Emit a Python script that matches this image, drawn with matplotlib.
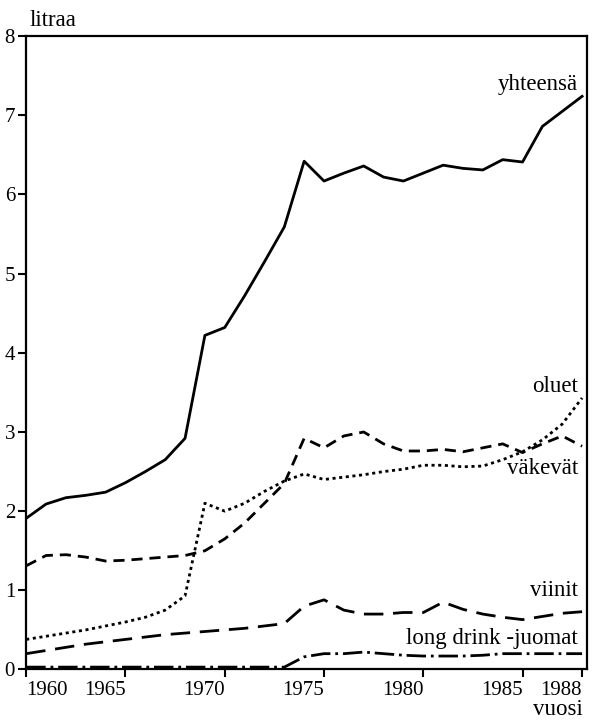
import matplotlib
matplotlib.use('Agg')
import matplotlib.pyplot as plt

plt.rcParams['font.family'] = ['Liberation Serif', 'DejaVu Serif']
plt.rcParams['lines.scale_dashes'] = False

# Alkoholin kulutus asukasta kohden (litraa 100 % alkoholia)
years = list(range(1960, 1989))
yhteensa = [1.91, 2.09, 2.17, 2.20, 2.24, 2.36, 2.50, 2.65, 2.92, 4.22,
            4.32, 4.72, 5.15, 5.59, 6.42, 6.17, 6.27, 6.36, 6.22, 6.17,
            6.27, 6.37, 6.33, 6.31, 6.44, 6.41, 6.86, 7.05, 7.24]
oluet = [0.38, 0.42, 0.46, 0.50, 0.55, 0.60, 0.66, 0.75, 0.93, 2.10,
         2.00, 2.10, 2.25, 2.38, 2.47, 2.40, 2.43, 2.46, 2.50, 2.53,
         2.58, 2.58, 2.56, 2.57, 2.65, 2.75, 2.90, 3.10, 3.43]
vakevat = [1.31, 1.44, 1.45, 1.42, 1.37, 1.38, 1.40, 1.42, 1.44, 1.50,
           1.65, 1.85, 2.10, 2.35, 2.92, 2.80, 2.95, 3.00, 2.85, 2.76,
           2.76, 2.78, 2.75, 2.80, 2.85, 2.74, 2.85, 2.95, 2.82]
viinit = [0.20, 0.24, 0.28, 0.32, 0.35, 0.38, 0.41, 0.44, 0.46, 0.48,
          0.50, 0.52, 0.55, 0.58, 0.80, 0.88, 0.75, 0.70, 0.70, 0.72,
          0.72, 0.85, 0.76, 0.70, 0.66, 0.63, 0.67, 0.71, 0.73]
long_drink = [0.03, 0.03, 0.03, 0.03, 0.03, 0.03, 0.03, 0.03, 0.03, 0.03,
              0.03, 0.03, 0.03, 0.03, 0.16, 0.20, 0.20, 0.22, 0.20, 0.18,
              0.17, 0.17, 0.17, 0.18, 0.20, 0.20, 0.20, 0.20, 0.20]

x_ticks = [1960, 1965, 1970, 1975, 1980, 1985, 1988]
y_ticks = [0, 1, 2, 3, 4, 5, 6, 7, 8]

fig = plt.figure(figsize=(5.96, 7.23), dpi=100)
ax = fig.add_axes([0.044, 0.074, 0.941, 0.876])

ax.plot(years, yhteensa, color='black', lw=2)
ax.plot(years, oluet, color='black', lw=2, dashes=(2.2, 2.6))
ax.plot(years, vakevat, color='black', lw=2, dashes=(8, 5))
ax.plot(years, viinit, color='black', lw=2, dashes=(14, 7))
ax.plot(years, long_drink, color='black', lw=2, dashes=(14, 3.5, 2, 3.5))

ax.set_xlim(1960, 1988.25)
ax.set_ylim(0, 8)
ax.set_xticks(x_ticks)
ax.set_yticks(y_ticks)
ax.tick_params(direction='out', length=6, width=1.5, labelsize=15, pad=2)
# vuosiluvut tikin vasemmalle puolelle, paitsi 1960
for i, t in enumerate(ax.get_xticklabels()):
    t.set_ha('left' if i == 0 else 'right')
for s in ax.spines.values():
    s.set_linewidth(1.6)

# sarjojen nimet
lab = dict(ha='right', va='baseline', fontsize=16.5)
ax.text(1987.8, 7.32, 'yhteensä', **lab)
ax.text(1987.8, 3.5, 'oluet', **lab)
ax.text(1987.8, 2.47, 'väkevät', **lab)
ax.text(1987.8, 0.93, 'viinit', **lab)
ax.text(1987.8, 0.32, 'long drink -juomat', **lab)

fig.text(0.05, 0.964, 'litraa', fontsize=16.5, ha='left', va='baseline')
fig.text(0.978, 0.011, 'vuosi', fontsize=16.5, ha='right', va='baseline')

fig.savefig('out.png', dpi=100)
